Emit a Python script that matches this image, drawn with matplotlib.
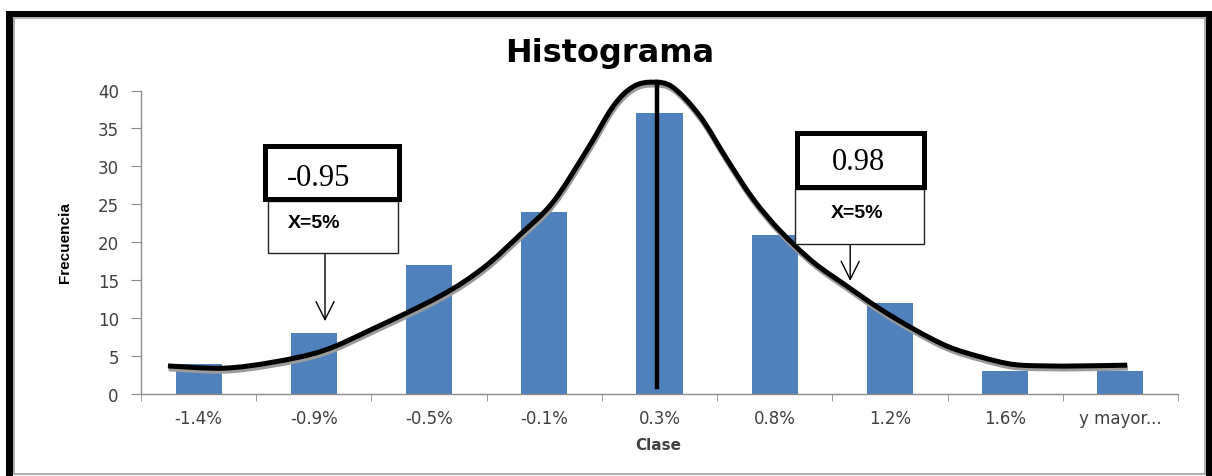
import matplotlib
matplotlib.use("Agg")
import matplotlib.pyplot as plt
import matplotlib.patheffects as pe
from matplotlib.patches import Rectangle, FancyArrowPatch, PathPatch
from matplotlib.path import Path

# histogram data
classes = ["-1.4%", "-0.9%", "-0.5%", "-0.1%", "0.3%", "0.8%", "1.2%", "1.6%", "y mayor..."]
frequency = [4, 8, 17, 24, 37, 21, 12, 3, 3]

# hand-drawn curve over the bars (x in class positions, y in frequency)
curve_x = [-0.266, 0.212, 0.646, 1.080, 1.514, 2.095, 2.469, 2.790, 3.076,
           3.372, 3.597, 3.771, 3.944, 4.118, 4.352, 4.587, 4.813, 5.047,
           5.333, 5.628, 5.915, 6.201, 6.497, 6.783, 7.069, 7.365, 7.651, 8.059]
curve_y = [3.7, 3.4, 4.2, 5.7, 8.6, 12.9, 16.6, 21.0, 25.3,
           32.2, 37.9, 40.5, 41.1, 40.4, 36.6, 30.9, 25.7, 21.5,
           17.4, 14.2, 11.2, 8.6, 6.3, 4.9, 3.9, 3.7, 3.7, 3.8]
mean_x = 3.979
mean_span = (0.9, 41.1)

# callouts: value, label, arrow tip (class position, frequency)
callouts = [("-0.95", "X=5%", (1.097, 9.6)), ("0.98", "X=5%", (5.655, 14.9))]

W, H = 1212, 477


def px(x, y):
    return x / W, 1 - y / H


def smooth_path(xs, ys):
    # Catmull-Rom through the read points, drawn as cubic Bezier segments
    pts = list(zip(xs, ys))
    verts, codes = [pts[0]], [Path.MOVETO]
    for i in range(len(pts) - 1):
        p0 = pts[max(i - 1, 0)]
        p1, p2 = pts[i], pts[i + 1]
        p3 = pts[min(i + 2, len(pts) - 1)]
        c1 = (p1[0] + (p2[0] - p0[0]) / 6, p1[1] + (p2[1] - p0[1]) / 6)
        c2 = (p2[0] - (p3[0] - p1[0]) / 6, p2[1] - (p3[1] - p1[1]) / 6)
        verts += [c1, c2, p2]
        codes += [Path.CURVE4] * 3
    return Path(verts, codes)


fig = plt.figure(figsize=(W / 100, H / 100), dpi=100)

# outer frame
frame = [(6, 12, 7, 465), (6, 12, 1206, 6), (1206, 12, 6, 465)]
for x0, y0, w, h in frame:
    fig.add_artist(Rectangle(px(x0, y0 + h), w / W, h / H, transform=fig.transFigure,
                             facecolor="black", edgecolor="none"))
fig.add_artist(Rectangle(px(14, 475), (1205 - 14) / W, (475 - 19) / H,
                         transform=fig.transFigure, facecolor="none",
                         edgecolor="#a0a0a0", linewidth=1.2))

ax = fig.add_axes([141 / W, 1 - 395 / H, (1178 - 141) / W, (395 - 91.5) / H])
positions = range(len(classes))
ax.bar(positions, frequency, width=0.4, color="#4f81bd")
ax.set_xlim(-0.5, len(classes) - 0.5)
ax.set_ylim(0, 40)
ax.set_yticks(range(0, 41, 5))
ax.set_xticks(list(positions), classes)
ax.set_xticks([i + 0.5 for i in range(-1, len(classes))], minor=True)

for side in ("top", "right"):
    ax.spines[side].set_visible(False)
for side in ("left", "bottom"):
    ax.spines[side].set_color("#8c8c8c")
    ax.spines[side].set_linewidth(1.0)
ax.tick_params(axis="y", direction="out", length=7, color="#8c8c8c", pad=9,
               labelsize=12, labelcolor="#404040")
ax.tick_params(axis="x", which="major", length=0, pad=11, labelsize=12,
               labelcolor="#404040")
ax.tick_params(axis="x", which="minor", direction="out", length=5, color="#8c8c8c")

curve = PathPatch(smooth_path(curve_x, curve_y), fill=False, edgecolor="black",
                  linewidth=3.6, clip_on=False, capstyle="butt",
                  path_effects=[pe.Stroke(offset=(0.5, -2), linewidth=3.8,
                                          foreground="#9a9a9a"),
                                pe.Normal()])
ax.add_patch(curve)
ax.plot([mean_x, mean_x], mean_span, color="black", linewidth=3.2, clip_on=False)

fig.text(610 / W, 1 - 62 / H, "Histograma", ha="center", va="baseline",
         fontsize=23, fontweight="bold", color="black")
fig.text(658 / W, 1 - 445 / H, "Clase", ha="center", va="center",
         fontsize=11, fontweight="bold", color="#404040")
fig.text(65 / W, 1 - 243 / H, "Frecuencia", ha="center", va="center", rotation=90,
         fontsize=11, fontweight="bold", family="Liberation Sans")

# callout boxes (pixel layout)
boxes = [
    {"top": (263, 145, 401, 202), "low": (268, 202, 398, 254), "vx": 287, "vy": 178,
     "lx": 288, "ly": 224, "ax": 325},
    {"top": (795, 132, 926, 190), "low": (795, 190, 924, 245), "vx": 832, "vy": 163,
     "lx": 831, "ly": 213, "ax": 850},
]
for (value, label, tip), b in zip(callouts, boxes):
    x0, y0, x1, y1 = b["low"]
    fig.add_artist(Rectangle(px(x0, y1), (x1 - x0) / W, (y1 - y0) / H,
                             transform=fig.transFigure, facecolor="white",
                             edgecolor="#202020", linewidth=1.0))
    x0, y0, x1, y1 = b["top"]
    fig.add_artist(Rectangle(px(x0 + 2, y1 - 2), (x1 - x0 - 4) / W, (y1 - y0 - 4) / H,
                             transform=fig.transFigure, facecolor="white",
                             edgecolor="black", linewidth=3.6))
    fig.text(*px(b["vx"], b["vy"]), value, ha="left", va="center", fontsize=22,
             family="Liberation Serif")
    fig.text(*px(b["lx"], b["ly"]), label, ha="left", va="center", fontsize=14,
             fontweight="bold", family="Liberation Sans")
    start = ax.transData.inverted().transform(
        fig.transFigure.transform(px(b["ax"], b["low"][3])))
    ax.add_patch(FancyArrowPatch((tip[0], start[1]), tip,
                                 arrowstyle="->,head_length=1.0,head_width=0.5",
                                 mutation_scale=13, color="black", linewidth=1.0,
                                 shrinkA=0, shrinkB=0, clip_on=False))

fig.savefig("out.png", dpi=100, facecolor="white")
